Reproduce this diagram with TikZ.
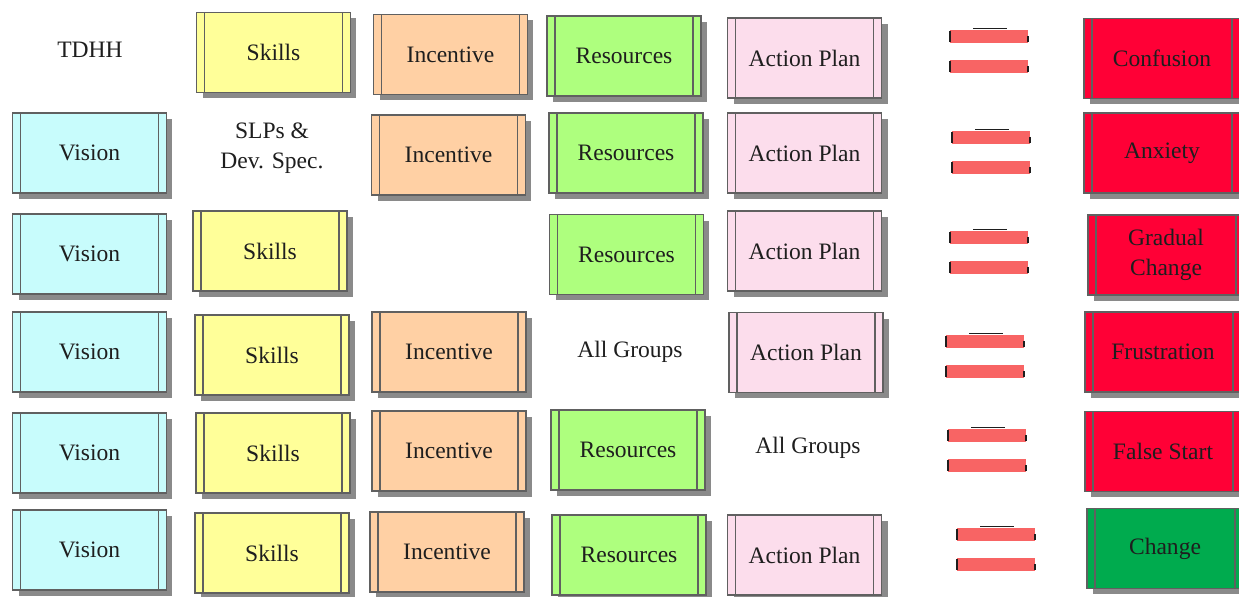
\documentclass[tikz,border=0pt]{standalone}
\usepackage{fontspec}
\setmainfont{Liberation Serif}
\usetikzlibrary{shadows}

\definecolor{boxgray}{HTML}{606060}
\definecolor{shadowgray}{HTML}{8A8A8A}
\definecolor{txtcol}{HTML}{1E1E1E}
\definecolor{visioncol}{HTML}{C8FCFC}
\definecolor{skillscol}{HTML}{FFFF99}
\definecolor{incentcol}{HTML}{FFD0A4}
\definecolor{rescol}{HTML}{AEFF7E}
\definecolor{plancol}{HTML}{FCDDEC}
\definecolor{badcol}{HTML}{FF0036}
\definecolor{goodcol}{HTML}{00AB4E}
\definecolor{eqcol}{HTML}{F86464}

\tikzset{
  every node/.style={font=\fontsize{13.4}{17}\selectfont, text=txtcol},
  proc/.style={draw=boxgray, line width=1pt, minimum width=3.08cm, minimum height=1.6cm,
    inner sep=0pt, align=center,
    drop shadow={shadow xshift=0.12cm, shadow yshift=-0.12cm, fill=shadowgray, opacity=1},
    path picture={\draw[boxgray, line width=1pt]
      ([xshift=0.16cm]path picture bounding box.north west) -- ([xshift=0.16cm]path picture bounding box.south west)
      ([xshift=-0.16cm]path picture bounding box.north east) -- ([xshift=-0.16cm]path picture bounding box.south east);}},
  vision/.style={proc, fill=visioncol},
  skills/.style={proc, fill=skillscol},
  incent/.style={proc, fill=incentcol},
  resrc/.style={proc, fill=rescol},
  plan/.style={proc, fill=plancol},
  bad/.style={proc, fill=badcol, minimum width=3.12cm},
  good/.style={proc, fill=goodcol, minimum width=3.12cm},
  label/.style={align=center}
}

\begin{document}
\begin{tikzpicture}[x=0.02cm, y=-0.02cm]
  \useasboundingbox (0,0) rectangle (1239,597);
  \clip (0,0) rectangle (1239,597);
  % row 1
  \node[label] (tdhh) at (90, 50) {TDHH};
  \node[skills] (skillsA) at (273.5, 52.5) {Skills};
  \node[incent] (incentA) at (450.5, 54.5) {Incentive};
  \node[resrc] (resA) at (624, 56) {Resources};
  \node[plan] (planA) at (804.5, 58) {Action Plan};
  \node[bad] (confusion) at (1162, 58.5) {Confusion};
  % row 2
  \node[vision] (visionB) at (89.5, 153) {Vision};
  \node[label] (slps) at (272, 148) {SLPs \&\\Dev. Spec.};
  \node[incent] (incentB) at (448.5, 155) {Incentive};
  \node[resrc] (resB) at (626, 153) {Resources};
  \node[plan] (planB) at (804.5, 153) {Action Plan};
  \node[bad] (anxiety) at (1162, 153) {Anxiety};
  % row 3
  \node[vision] (visionC) at (89.5, 254) {Vision};
  \node[skills] (skillsC) at (270, 251) {Skills};
  \node[resrc] (resC) at (626.5, 254.5) {Resources};
  \node[plan] (planC) at (804.5, 251) {Action Plan};
  \node[bad] (gradual) at (1166, 255) {Gradual\\Change};
  % row 4
  \node[vision] (visionD) at (89.5, 352) {Vision};
  \node[skills] (skillsD) at (272, 355) {Skills};
  \node[incent] (incentD) at (449, 352) {Incentive};
  \node[label] (groupsD) at (630, 352) {All Groups};
  \node[plan] (planD) at (806, 352.5) {Action Plan};
  \node[bad] (frustration) at (1163, 352) {Frustration};
  % row 5
  \node[vision] (visionE) at (89.5, 453) {Vision};
  \node[skills] (skillsE) at (273, 453) {Skills};
  \node[incent] (incentE) at (449, 451) {Incentive};
  \node[resrc] (resE) at (628, 450) {Resources};
  \node[label] (groupsE) at (808, 448) {All Groups};
  \node[bad] (falsestart) at (1163, 451.5) {False Start};
  % row 6
  \node[vision] (visionF) at (89.5, 550) {Vision};
  \node[skills] (skillsF) at (272, 553) {Skills};
  \node[incent] (incentF) at (447, 552) {Incentive};
  \node[resrc] (resF) at (629, 555) {Resources};
  \node[plan] (planF) at (804.5, 555) {Action Plan};
  \node[good] (change) at (1165, 548.5) {Change};
  % equals signs
  \foreach \ex/\ey in {950/30, 952/131, 950/231, 946/335, 948/429, 957/528} {
    \fill[eqcol] (\ex, \ey) rectangle ++(78, 13);
    \fill[eqcol] (\ex, \ey+30) rectangle ++(78, 13);
    \draw[txtcol, line width=1pt] (\ex+23, \ey-1.5) -- ++(34, 0);
    \draw[txtcol, line width=1pt] (\ex, \ey+1) -- ++(0, 11) (\ex, \ey+31) -- ++(0, 11);
    \draw[txtcol, line width=1pt] (\ex+78, \ey+6) -- ++(0, 6) (\ex+78, \ey+36) -- ++(0, 6);
  }
\end{tikzpicture}
\end{document}
